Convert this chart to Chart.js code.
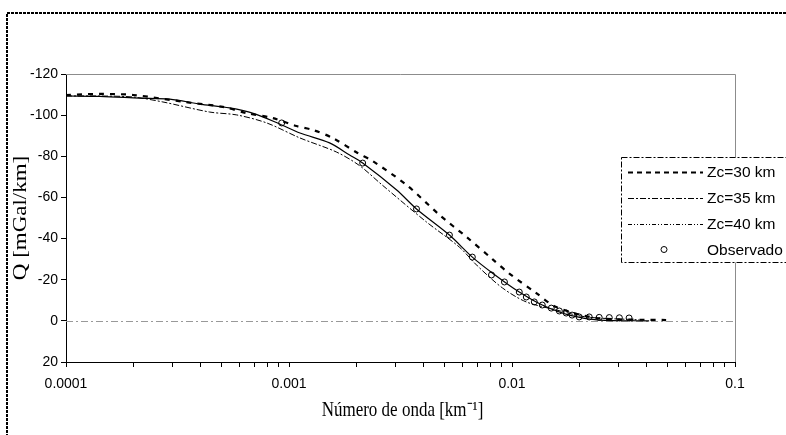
<!DOCTYPE html>
<html>
<head>
<meta charset="utf-8">
<script src="https://cdn.jsdelivr.net/npm/chart.js@4.4.1/dist/chart.umd.min.js"></script>
<style>
body{margin:0;background:#fff}
canvas{display:block}
</style>
</head>
<body>
<canvas id="myChart" width="786" height="435"></canvas>
<script>
// numero de onda [1/km] y Q [mGal/km] para cada profundidad Zc
var zc30K=[0.0001,0.000145,0.0002,0.000341,0.000505,0.000646,0.000845,0.00108,0.00128,0.00157,0.00203,0.00237,0.00337,0.00473,0.00625,0.00817,0.00973,0.01285,0.0158,0.0239,0.0491]
var zc30Q=[-109.8,-110.3,-109.8,-106.4,-104.0,-101.0,-98.6,-94.7,-92.8,-88.9,-81.6,-77.7,-66.0,-51.5,-40.8,-30.0,-23.0,-13.5,-6.7,-1.4,-0.4]

var zc35K=[0.0001,0.000142,0.000214,0.000292,0.000398,0.000542,0.000702,0.000908,0.00112,0.00152,0.00187,0.00214,0.00304,0.00373,0.00524,0.00664,0.00816,0.01078,0.01367,0.01806,0.0246,0.0412]
var zc35Q=[-109.3,-109.1,-108.3,-107.8,-105.4,-103.5,-100.6,-95.7,-91.3,-86.5,-80.6,-76.7,-63.6,-54.4,-41.7,-31.0,-23.3,-14.0,-7.7,-2.8,-0.4,0]

var zc40K=[0.0001,0.000142,0.0002,0.000272,0.000441,0.000583,0.000795,0.00112,0.00163,0.00207,0.00262,0.00413,0.0058,0.007,0.00906,0.01159,0.0158,0.0215,0.0372]
var zc40Q=[-109.3,-109.3,-108.8,-106.4,-101.5,-100.1,-96.2,-88.9,-82.1,-75.5,-66.0,-48.1,-35.9,-26.7,-16.0,-9.2,-5.3,-1.9,-0.5]

// observado
var obsK=[0.000927,0.00214,0.00373,0.00524,0.00664,0.00809,0.00925,0.01078,0.01159,0.01259,0.01367,0.0150,0.0163,0.0175,0.0186,0.0200,0.0222,0.0246,0.0273,0.0303,0.0335]
var obsQ=[-96.2,-76.7,-54.4,-41.7,-31.0,-22.3,-18.9,-14.0,-11.6,-9.2,-7.7,-6.2,-4.8,-3.8,-2.8,-1.9,-1.9,-1.7,-1.6,-1.5,-1.4]

var decades=[0.0001,0.001,0.01,0.1]
var decadeLabels=['0.0001','0.001','0.01','0.1']
var yTicks=[-120,-100,-80,-60,-40,-20,0,20]

var legendLabels=['Zc=30 km','Zc=35 km','Zc=40 km','Observado']
var xTitle='Número de onda [km⁻¹]'
var yTitle='Q [mGal/km]'

function pts(k,q){
    var out=[]
    for(var i=0;i<k.length;i++){ out.push({x:k[i],y:q[i]}) }
    return out
}

// marcas del eje x: 1..9 por decada
var xTickValues=[]
for(var d=0;d<decades.length-1;d++){
    for(var m=1;m<10;m++){ xTickValues.push(decades[d]*m) }
}
xTickValues.push(decades[decades.length-1])

var sansFont={family:"'Liberation Sans', Arial, sans-serif",size:14}
var serifCss="17px 'Liberation Serif', 'Times New Roman', serif"

// marco exterior, borde gris del area y linea de cero
const framePlugin={
    id:'frame',
    beforeDraw(chart){
        const ctx=chart.ctx
        ctx.save()
        ctx.fillStyle='#fff'
        ctx.fillRect(0,0,chart.width,chart.height)
        ctx.strokeStyle='#000'
        ctx.lineWidth=2
        ctx.setLineDash([3,1])
        ctx.strokeRect(7,13,820,460)
        ctx.restore()
    },
    beforeDatasetsDraw(chart){
        const ctx=chart.ctx, a=chart.chartArea
        const y0=Math.round(chart.scales.y.getPixelForValue(0))+0.5
        ctx.save()
        ctx.strokeStyle='#8c8c8c'
        ctx.lineWidth=1
        ctx.beginPath()
        ctx.moveTo(a.left,a.top+0.5)
        ctx.lineTo(a.right+0.5,a.top+0.5)
        ctx.lineTo(a.right+0.5,a.bottom)
        ctx.stroke()
        ctx.strokeStyle='#999'
        ctx.setLineDash([7,3,2,3])
        ctx.beginPath()
        ctx.moveTo(a.left,y0)
        ctx.lineTo(a.right,y0)
        ctx.stroke()
        ctx.restore()
    }
}

// titulos de los ejes (tipografia algo alargada en vertical)
const titlePlugin={
    id:'axisTitles',
    afterDraw(chart){
        const ctx=chart.ctx, a=chart.chartArea
        ctx.save()
        ctx.font=serifCss
        ctx.fillStyle='#000'
        ctx.textAlign='center'
        ctx.textBaseline='middle'
        ctx.save()
        ctx.translate((a.left+a.right)/2+2,410)
        ctx.scale(1,1.25)
        ctx.fillText(xTitle,0,0)
        ctx.restore()
        ctx.translate(21,(a.top+a.bottom)/2)
        ctx.rotate(-Math.PI/2)
        ctx.scale(1.35,1.1)
        ctx.fillText(yTitle,0,0)
        ctx.restore()
    }
}

// leyenda en recuadro sobre el borde derecho
const legendPlugin={
    id:'boxLegend',
    afterDraw(chart){
        const ctx=chart.ctx
        const bx=621.5, by=157.5, bw=200, bh=105
        const dashes=[[5,4],[6,2,2,2],[4,2,1,2,1,2],null]
        const widths=[2,1,1,1]
        ctx.save()
        ctx.fillStyle='#fff'
        ctx.fillRect(bx,by,bw,bh)
        ctx.strokeStyle='#000'
        ctx.lineWidth=1
        ctx.setLineDash([6,2,2,2])
        ctx.strokeRect(bx,by,bw,bh)
        ctx.font="15.5px 'Liberation Sans', Arial, sans-serif"
        ctx.textBaseline='middle'
        ctx.fillStyle='#000'
        for(var i=0;i<legendLabels.length;i++){
            var y=by+14+i*26
            if(dashes[i]){
                ctx.setLineDash(dashes[i])
                ctx.lineWidth=widths[i]
                ctx.beginPath()
                ctx.moveTo(628,Math.round(y)+0.5)
                ctx.lineTo(703,Math.round(y)+0.5)
                ctx.stroke()
            }else{
                ctx.setLineDash([])
                ctx.lineWidth=1
                ctx.beginPath()
                ctx.arc(664,y,3,0,Math.PI*2)
                ctx.stroke()
            }
            ctx.fillText(legendLabels[i],707,y+1)
        }
        ctx.restore()
    }
}

var ctx=document.getElementById('myChart').getContext('2d')
const chart=new Chart(ctx,{
    type:'line',
    data:{
        datasets:[{
            label:legendLabels[0],
            data:pts(zc30K,zc30Q),
            borderColor:'#000',
            borderWidth:2.2,
            borderDash:[5,6],
            pointRadius:0,
            tension:0.3
        },{
            label:legendLabels[1],
            data:pts(zc35K,zc35Q),
            borderColor:'#000',
            borderWidth:1.2,
            pointRadius:0,
            tension:0.3
        },{
            label:legendLabels[2],
            data:pts(zc40K,zc40Q),
            borderColor:'#000',
            borderWidth:1,
            borderDash:[6,2,2,2],
            pointRadius:0,
            tension:0.3
        },{
            label:legendLabels[3],
            data:pts(obsK,obsQ),
            showLine:false,
            pointStyle:'circle',
            pointRadius:3,
            pointBorderWidth:1,
            pointBorderColor:'#000',
            pointBackgroundColor:'#fff'
        }]
    },
    options:{
        responsive:false,
        animation:false,
        devicePixelRatio:1,
        layout:{padding:{left:0,top:74,right:51,bottom:0}},
        plugins:{legend:{display:false},tooltip:{enabled:false}},
        scales:{
            x:{
                type:'logarithmic',
                min:0.0001,
                max:0.1,
                afterBuildTicks(scale){ scale.ticks=xTickValues.map(v=>({value:v})) },
                afterFit(scale){ scale.height=73 },
                grid:{display:true,drawOnChartArea:false,drawTicks:true,tickLength:5,color:'#000'},
                border:{display:true,color:'#000',width:1},
                ticks:{
                    autoSkip:false,maxRotation:0,padding:9,color:'#000',font:sansFont,
                    callback:function(v){
                        for(var i=0;i<decades.length;i++){
                            if(Math.abs(v/decades[i]-1)<1e-6) return decadeLabels[i]
                        }
                        return ''
                    }
                }
            },
            y:{
                type:'linear',
                reverse:true,
                min:-120,
                max:20,
                afterBuildTicks(scale){ scale.ticks=yTicks.map(v=>({value:v})) },
                afterFit(scale){ scale.width=66 },
                grid:{display:true,drawOnChartArea:false,drawTicks:true,tickLength:5,color:'#000'},
                border:{display:true,color:'#000',width:1},
                ticks:{padding:3,color:'#000',font:sansFont}
            }
        }
    },
    plugins:[framePlugin,titlePlugin,legendPlugin]
})
</script>
</body>
</html>
